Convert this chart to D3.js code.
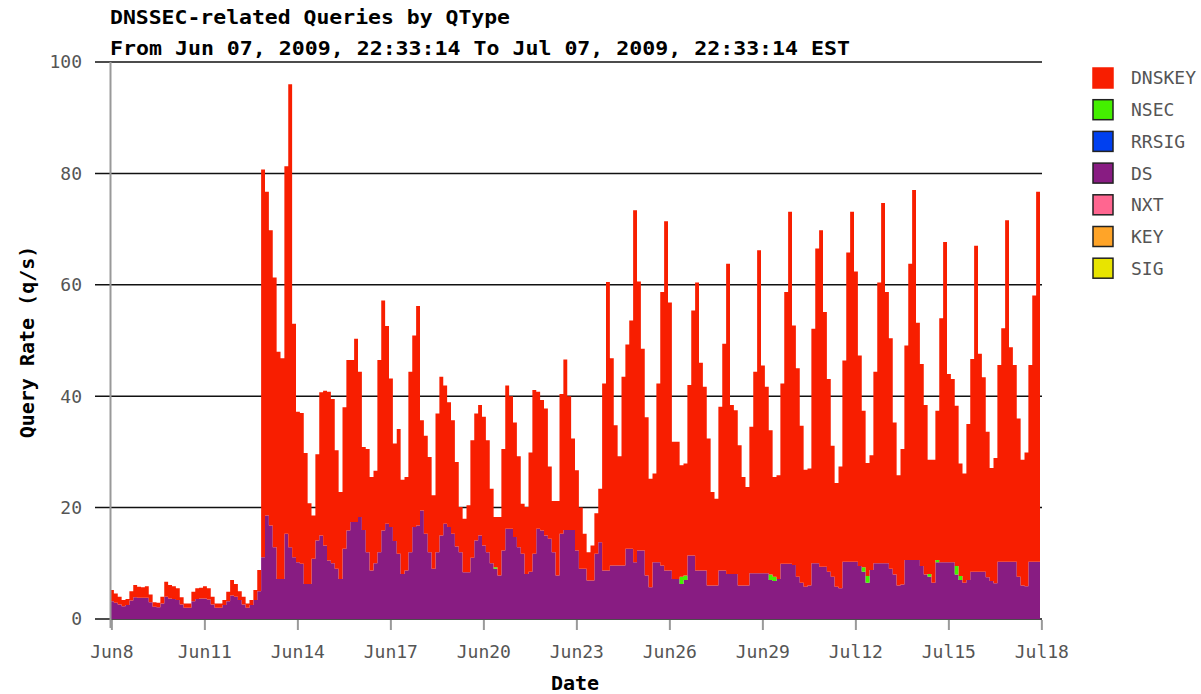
<!DOCTYPE html>
<html>
<head>
<meta charset="utf-8">
<script src="https://cdn.jsdelivr.net/npm/d3@7/dist/d3.min.js"></script>
<style>
  body { margin: 0; background: #fff; }
  text { font-family: "DejaVu Sans Mono", monospace; }
</style>
</head>
<body>
<div id="chart"></div>
<script>
// 3-hour bins starting Jun 07, 2009 22:33:14
var ds = [
  3.2, 2.9, 2.6, 2.3, 2.5, 3.3, 3.9, 3.8, 3.8, 3.8,
  3.0, 2.2, 2.1, 2.8, 4.0, 3.7, 3.6, 3.4, 2.6, 2.0,
  2.0, 3.2, 3.6, 3.7, 3.7, 3.5, 2.6, 2.0, 2.0, 2.5,
  3.2, 4.2, 4.0, 3.4, 2.6, 2.0, 2.5, 3.4, 5.0, 11.1,
  18.6, 16.8, 12.9, 7.2, 7.2, 15.3, 12.9, 11.1, 10.2, 9.9,
  6.3, 6.3, 10.8, 14.1, 15.0, 13.2, 10.5, 10.0, 9.0, 7.2,
  12.6, 15.9, 17.4, 17.4, 18.3, 16.0, 12.0, 8.7, 10.0, 12.0,
  15.9, 17.1, 16.5, 14.0, 11.7, 8.1, 8.7, 12.0, 16.5, 16.8,
  19.5, 15.3, 12.0, 9.0, 12.0, 15.0, 17.1, 16.5, 15.3, 13.0,
  12.0, 8.4, 8.4, 11.0, 14.1, 15.0, 13.2, 12.0, 10.0, 9.0,
  7.8, 12.3, 16.2, 16.2, 14.7, 12.9, 11.7, 8.1, 8.5, 11.7,
  16.2, 15.9, 15.0, 14.4, 12.0, 7.8, 15.3, 16.0, 16.0, 16.0,
  12.3, 9.0, 9.0, 6.9, 6.9, 11.7, 13.8, 8.7, 8.7, 9.6,
  9.6, 9.6, 9.6, 12.6, 12.6, 10.2, 12.3, 12.3, 7.8, 5.7,
  10.2, 10.2, 9.6, 8.7, 8.7, 7.2, 7.2, 6.3, 7.0, 11.4,
  11.4, 8.7, 8.7, 8.7, 6.0, 6.0, 6.0, 8.7, 8.7, 8.1,
  8.1, 8.1, 6.0, 6.0, 6.0, 8.2, 8.2, 8.2, 8.2, 8.2,
  7.0, 6.8, 7.2, 9.9, 9.9, 9.9, 9.7, 7.6, 6.5, 5.8,
  6.0, 10.0, 10.0, 9.4, 9.4, 8.5, 7.6, 5.8, 5.5, 10.3,
  10.3, 10.3, 10.3, 9.5, 8.5, 6.5, 8.8, 10.0, 10.0, 10.0,
  10.0, 9.0, 8.0, 6.0, 6.2, 10.6, 10.6, 10.6, 10.6, 9.5,
  8.0, 7.6, 6.5, 10.2, 10.2, 10.2, 10.2, 10.2, 8.0, 7.0,
  6.5, 7.0, 8.5, 8.5, 8.5, 8.5, 7.5, 6.8, 6.4, 10.3,
  10.3, 10.3, 10.3, 10.3, 7.6, 6.0, 5.9, 10.3, 10.3, 10.3
];

var dnskey = [
  2.0, 1.7, 1.4, 1.1, 1.1, 1.7, 2.2, 2.0, 1.9, 2.1,
  1.4, 0.8, 0.8, 1.2, 2.7, 2.4, 2.3, 2.1, 1.3, 0.8,
  0.8, 1.7, 1.9, 1.9, 2.2, 2.0, 1.4, 0.8, 0.8, 0.9,
  1.7, 2.8, 2.3, 1.6, 1.4, 0.8, 0.9, 1.8, 3.8, 69.6,
  58.1, 53.0, 48.4, 40.8, 39.6, 66.0, 83.1, 41.9, 27.0, 27.1,
  23.5, 14.5, 7.8, 15.5, 25.7, 27.8, 30.3, 29.5, 21.3, 15.6,
  25.4, 30.6, 29.1, 32.9, 26.1, 14.9, 18.5, 16.8, 16.6, 34.5,
  41.3, 35.5, 26.7, 17.5, 22.4, 16.9, 16.8, 32.4, 34.4, 39.4,
  16.2, 17.6, 17.1, 13.2, 24.9, 28.5, 24.8, 22.4, 20.4, 15.2,
  8.1, 9.6, 12.0, 21.1, 22.8, 23.4, 23.1, 20.1, 13.4, 9.0,
  10.5, 18.2, 25.7, 23.8, 20.6, 16.3, 9.0, 12.0, 21.4, 29.4,
  24.6, 23.4, 22.8, 13.0, 9.2, 13.4, 25.1, 30.6, 24.0, 16.4,
  14.4, 11.0, 6.3, 5.1, 6.3, 7.3, 9.6, 33.6, 51.8, 37.2,
  25.2, 19.6, 33.9, 36.7, 41.0, 63.2, 48.3, 36.2, 28.4, 19.5,
  15.9, 32.1, 49.1, 62.7, 48.1, 24.6, 24.6, 20.0, 20.1, 30.6,
  44.0, 51.7, 37.3, 33.0, 26.4, 16.8, 15.6, 29.4, 40.7, 55.7,
  30.3, 29.4, 25.2, 19.5, 17.7, 26.3, 36.2, 58.0, 37.3, 33.5,
  25.9, 17.9, 18.6, 32.4, 48.8, 63.2, 43.0, 37.4, 28.2, 21.0,
  21.0, 42.1, 56.5, 60.4, 45.7, 34.6, 23.5, 18.6, 21.9, 36.1,
  55.5, 62.8, 52.1, 37.8, 28.1, 20.3, 20.6, 34.4, 50.4, 64.7,
  48.7, 41.4, 27.3, 19.8, 24.3, 38.5, 53.2, 66.4, 42.6, 36.3,
  30.4, 20.5, 22.1, 26.8, 43.8, 57.5, 33.8, 32.9, 28.8, 20.2,
  19.6, 28.0, 38.2, 58.5, 39.1, 34.9, 26.1, 20.3, 22.5, 35.3,
  41.9, 61.3, 38.5, 35.3, 28.4, 22.6, 24.0, 35.3, 47.8, 66.4
];

// NSEC only shows up in a few bins
var nsecBins   = [99, 147, 148, 170, 171, 194, 195, 211, 213, 218, 219];
var nsecValues = [0.3, 1.3, 0.8, 1.0, 0.8, 0.8, 1.2, 0.5, 0.4, 1.5, 0.7];

var legendNames  = ["DNSKEY", "NSEC", "RRSIG", "DS", "NXT", "KEY", "SIG"];
var legendColors = ["#f81e00", "#44f000", "#0040f0", "#881c82", "#ff6690", "#ffa428", "#e8e400"];

var yTicks = [0, 20, 40, 60, 80, 100];
var xTickLabels = ["Jun8", "Jun11", "Jun14", "Jun17", "Jun20", "Jun23",
                   "Jun26", "Jun29", "Jul12", "Jul15", "Jul18"];

var width = 1201,
    height = 694;

var svg = d3.select("#chart")
    .append("svg")
    .attr("width", width)
    .attr("height", height);

var t0 = new Date(2009, 5, 7, 22, 33, 14);

/* table for the stack */
var rows = dnskey.map(function(d, i) {
    return { time: d3.timeHour.offset(t0, 3 * i), DS: ds[i], NSEC: 0, DNSKEY: d };
});
nsecBins.forEach(function(b, j) { rows[b].NSEC = nsecValues[j]; });
var last = rows[rows.length - 1];
rows.push({ time: d3.timeHour.offset(t0, 3 * rows.length), DS: last.DS, NSEC: last.NSEC, DNSKEY: last.DNSKEY });

var x = d3.scaleTime()
    .domain([t0, rows[rows.length - 1].time])
    .range([110, 1040]);

var y = d3.scaleLinear()
    .domain([0, 100])
    .range([619, 62]);

/* grid lines */
svg.append("g")
    .selectAll("line")
    .data(yTicks)
    .enter().append("line")
    .attr("x1", 95)
    .attr("x2", 1042)
    .attr("y1", function(d) { return y(d); })
    .attr("y2", function(d) { return y(d); })
    .attr("stroke", "#111")
    .attr("stroke-width", 1.5);

/* stacked areas */
var stack = d3.stack().keys(["DS", "NSEC", "DNSKEY"]);
var colorOf = { DS: legendColors[3], NSEC: legendColors[1], DNSKEY: legendColors[0] };

var area = d3.area()
    .curve(d3.curveStepAfter)
    .x(function(d) { return x(d.data.time); })
    .y0(function(d) { return y(d[0]); })
    .y1(function(d) { return y(d[1]); });

svg.append("g")
    .selectAll("path")
    .data(stack(rows))
    .enter().append("path")
    .attr("d", area)
    .attr("fill", function(d) { return colorOf[d.key]; });

/* y axis */
svg.append("line")
    .attr("x1", 110.5).attr("x2", 110.5)
    .attr("y1", 62).attr("y2", 628)
    .attr("stroke", "#999")
    .attr("stroke-width", 2);

svg.append("g")
    .selectAll("text")
    .data(yTicks)
    .enter().append("text")
    .attr("x", 82)
    .attr("y", function(d) { return y(d); })
    .attr("dy", "0.36em")
    .attr("text-anchor", "end")
    .attr("font-size", 18)
    .attr("fill", "#555")
    .text(function(d) { return d; });

/* x axis ticks */
var tickDates = xTickLabels.map(function(l, k) { return new Date(2009, 5, 8 + 3 * k); });

svg.append("g")
    .selectAll("line")
    .data(tickDates)
    .enter().append("line")
    .attr("x1", function(d) { return x(d); })
    .attr("x2", function(d) { return x(d); })
    .attr("y1", 620)
    .attr("y2", 630)
    .attr("stroke", "#999")
    .attr("stroke-width", 2);

svg.append("g")
    .selectAll("text")
    .data(tickDates)
    .enter().append("text")
    .attr("x", function(d) { return x(d); })
    .attr("y", 658)
    .attr("text-anchor", "middle")
    .attr("font-size", 18)
    .attr("fill", "#555")
    .text(function(d, i) { return xTickLabels[i]; });

/* titles */
svg.append("text")
    .attr("x", 110).attr("y", 24)
    .attr("font-size", 20).attr("font-weight", "bold")
    .attr("textLength", 400).attr("lengthAdjust", "spacingAndGlyphs")
    .text("DNSSEC-related Queries by QType");

svg.append("text")
    .attr("x", 110).attr("y", 55)
    .attr("font-size", 20).attr("font-weight", "bold")
    .attr("textLength", 740).attr("lengthAdjust", "spacingAndGlyphs")
    .text("From Jun 07, 2009, 22:33:14 To Jul 07, 2009, 22:33:14 EST");

svg.append("text")
    .attr("transform", "translate(34,342) rotate(-90)")
    .attr("text-anchor", "middle")
    .attr("font-size", 20).attr("font-weight", "bold")
    .text("Query Rate (q/s)");

svg.append("text")
    .attr("x", 575).attr("y", 690)
    .attr("text-anchor", "middle")
    .attr("font-size", 20).attr("font-weight", "bold")
    .text("Date");

/* legend */
var legend = svg.append("g")
    .selectAll("g")
    .data(legendNames)
    .enter().append("g")
    .attr("transform", function(d, i) { return "translate(1093," + (68 + i * 31.7) + ")"; });

legend.append("rect")
    .attr("width", 20)
    .attr("height", 20)
    .attr("fill", function(d, i) { return legendColors[i]; })
    .attr("stroke", function(d, i) { return i == 0 ? legendColors[0] : "#222"; })
    .attr("stroke-width", 1.5);

legend.append("text")
    .attr("x", 38)
    .attr("y", 10)
    .attr("dy", "0.36em")
    .attr("font-size", 18)
    .attr("fill", "#555")
    .text(function(d) { return d; });
</script>
</body>
</html>
